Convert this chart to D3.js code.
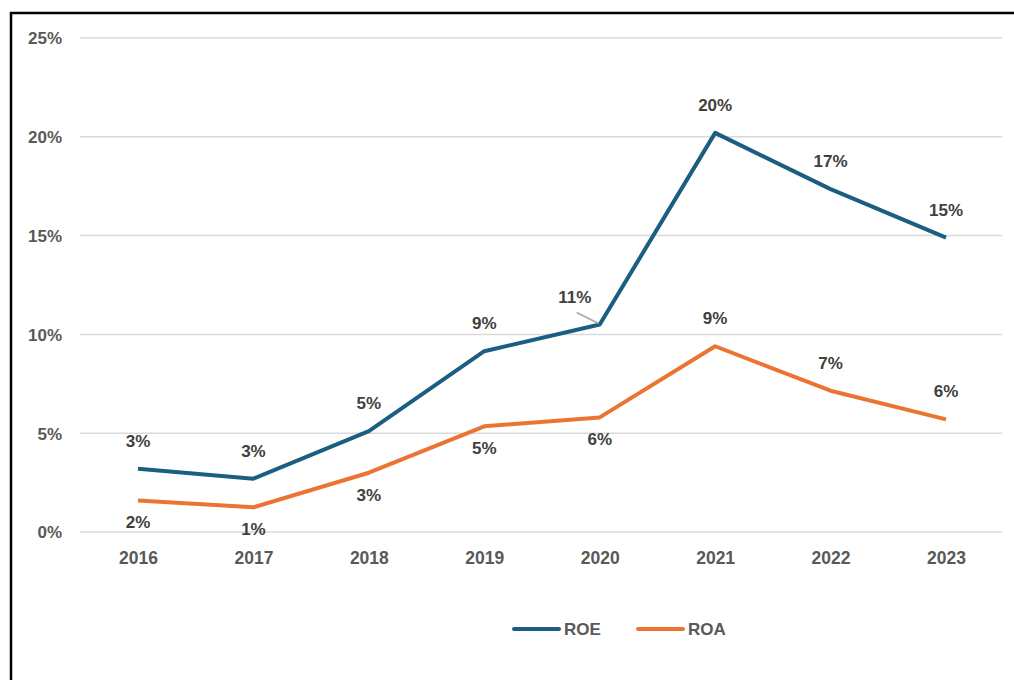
<!DOCTYPE html>
<html>
<head>
<meta charset="utf-8">
<script src="https://d3js.org/d3.v7.min.js"></script>
<style>
  body { margin: 0; background: #fff; }
  svg { display: block; font-family: "Liberation Sans", Arial, sans-serif; font-weight: bold; }
  .grid line { stroke: #d9d9d9; stroke-width: 1.5; }
  .tick text { fill: #595959; font-size: 17px; }
  .lbl { fill: #404040; font-size: 17px; text-anchor: middle; }
</style>
</head>
<body>
<svg width="1014" height="680"></svg>
<script>
// data
const years = ["2016", "2017", "2018", "2019", "2020", "2021", "2022", "2023"];
const roe = [3.2, 2.7, 5.1, 9.15, 10.5, 20.2, 17.35, 14.9];
const roa = [1.6, 1.25, 3.0, 5.35, 5.8, 9.4, 7.15, 5.7];
const roeLabelPos = ["above", "above", "above", "above", "left", "above", "above", "above"];
const roaLabelPos = ["below", "below", "below", "below", "below", "above", "above", "above"];
const yTicks = [0, 5, 10, 15, 20, 25];

const svg = d3.select("svg");

// frame (only left and top edges show in the crop)
svg.append("line").attr("x1", 11).attr("x2", 11).attr("y1", 12).attr("y2", 680)
   .attr("stroke", "#000").attr("stroke-width", 2.5);
svg.append("line").attr("x1", 10).attr("x2", 1014).attr("y1", 13).attr("y2", 13)
   .attr("stroke", "#000").attr("stroke-width", 2.5);

const x = d3.scalePoint().domain(years).range([138, 946]);
const y = d3.scaleLinear().domain([0, 25]).range([532, 38]);

// gridlines + y labels
const grid = svg.append("g").attr("class", "grid");
grid.selectAll("line").data(yTicks).join("line")
    .attr("x1", 80).attr("x2", 1002)
    .attr("y1", d => y(d)).attr("y2", d => y(d));

const yAxis = svg.append("g").attr("transform", "translate(62,0)")
    .call(d3.axisLeft(y).tickValues(yTicks).tickFormat(d => d + "%").tickSize(0).tickPadding(0));
yAxis.select(".domain").remove();
yAxis.selectAll("text").attr("dy", "0.35em");

const xAxis = svg.append("g").attr("transform", "translate(0,532)")
    .call(d3.axisBottom(x).tickSize(0).tickPadding(20));
xAxis.select(".domain").remove();
xAxis.selectAll("text").attr("dy", "0.71em").style("font-size", "17.5px");

const line = d3.line().x((d, i) => x(years[i])).y(d => y(d));

const series = [
  { name: "ROE", values: roe, color: "#1B5E82", pos: roeLabelPos },
  { name: "ROA", values: roa, color: "#EB7433", pos: roaLabelPos }
];

series.forEach(s => {
  svg.append("path").datum(s.values)
     .attr("d", line).attr("fill", "none")
     .attr("stroke", s.color).attr("stroke-width", 4)
     .attr("stroke-linejoin", "round");

  s.values.forEach((v, i) => {
    const px = x(years[i]), py = y(v);
    let lx = px, ly;
    if (s.pos[i] === "above") ly = py - 28;
    else if (s.pos[i] === "below") ly = py + 22;
    else {
      lx = px - 25; ly = py - 27;
      svg.append("line").attr("x1", px - 1).attr("y1", py - 1)
         .attr("x2", px - 23).attr("y2", py - 12)
         .attr("stroke", "#a6a6a6").attr("stroke-width", 1.5);
    }
    svg.append("text").attr("class", "lbl")
       .attr("x", lx).attr("y", ly).attr("dy", "0.35em")
       .text(Math.round(v) + "%");
  });
});

// legend
const legend = svg.append("g").attr("transform", "translate(514,629)");
series.forEach((s, i) => {
  const g = legend.append("g").attr("transform", `translate(${i * 124},0)`);
  g.append("line").attr("x1", 0).attr("x2", 45).attr("y1", 0).attr("y2", 0)
   .attr("stroke", s.color).attr("stroke-width", 4).attr("stroke-linecap", "round");
  g.append("text").attr("x", 50).attr("dy", "0.35em")
   .attr("fill", "#595959").style("font-size", "17px").text(s.name);
});
</script>
</body>
</html>
